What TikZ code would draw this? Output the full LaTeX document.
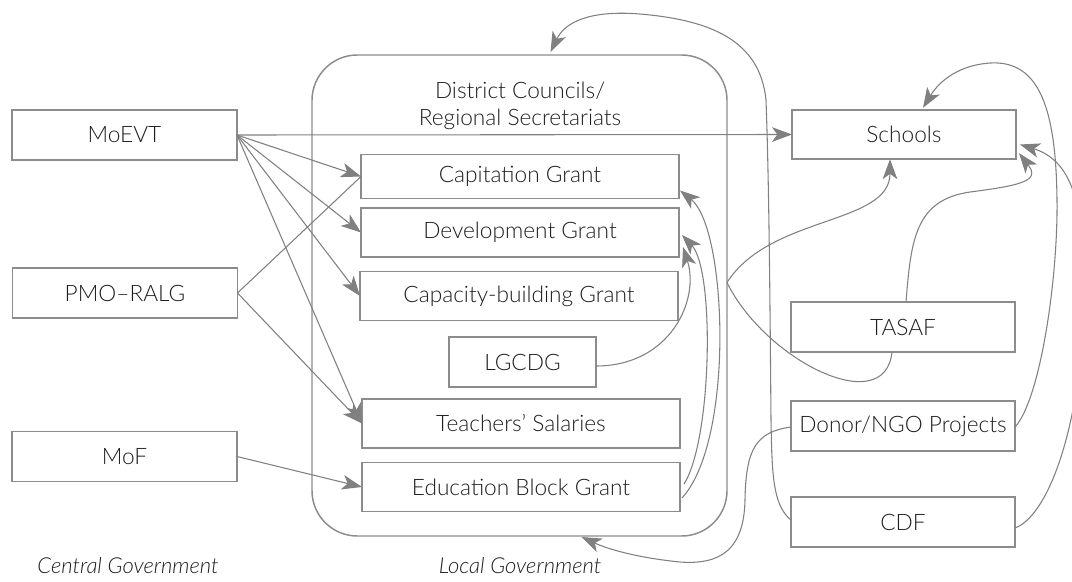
\documentclass[tikz,border=0pt]{standalone}
\usepackage{fontspec}
\setmainfont{Lato Light}[ItalicFont={Lato Light Italic}]
\usetikzlibrary{arrows.meta,calc}
\definecolor{edgegray}{HTML}{808080}
\definecolor{boxgray}{HTML}{8C8C8C}
\definecolor{ink}{HTML}{1E1E1E}
\begin{document}
\begin{tikzpicture}[x=0.75pt,y=-0.75pt,
  label/.style={text=ink, font=\fontsize{17}{20}\selectfont, align=center, inner sep=0pt},
  box/.style={label, draw=boxgray, line width=1.1pt, fill=white, outer sep=0pt},
  sidebox/.style={box, minimum width=168.75pt, minimum height=37.5pt},
  grantbox/.style={box, minimum width=238.5pt, minimum height=37pt},
  link/.style={draw=edgegray, line width=0.8pt},
  arr/.style={link, -{Stealth[length=15pt,width=11pt,inset=4pt]}},
  ]
\useasboundingbox (0,0) rectangle (1072,582);
\clip (0,0) rectangle (1072,582);

% local government frame
\node[draw=boxgray, line width=1.1pt, rounded corners=34pt, minimum width=311.25pt,
      minimum height=360.75pt, inner sep=0pt, outer sep=0pt] (lg) at (519.5,295.5) {};
\node[label] (lgtitle) at (520,106) {District Councils/\\Regional Secretariats};

% central government
\node[sidebox] (moevt) at (124.5,135) {MoEVT};
\node[sidebox] (pmo) at (125,293) {PMO--RALG};
\node[sidebox] (mof) at (124.5,456.5) {MoF};

% grants inside the local government frame
\node[grantbox, minimum height=33pt] (cap) at (520,176.5) {Capitation Grant};
\node[grantbox] (dev) at (520,232.5) {Development Grant};
\node[grantbox] (capb) at (519,296) {Capacity-building Grant};
\node[box, minimum width=110.25pt, minimum height=37.5pt] (lgcdg) at (522.5,362) {LGCDG};
\node[grantbox] (teach) at (521,423.5) {Teachers’ Salaries};
\node[grantbox] (ebg) at (521,487) {Education Block Grant};

% right column
\node[sidebox, minimum width=168pt, minimum height=37pt] (schools) at (904,134.5) {Schools};
\node[sidebox, minimum width=168pt] (tasaf) at (903,327) {TASAF};
\node[sidebox, minimum width=168pt] (donor) at (903,426) {Donor/NGO Projects};
\node[sidebox, minimum width=168pt] (cdf) at (903,522) {CDF};

% captions
\node[label, font=\fontsize{16.5}{20}\selectfont\itshape] (cgcap) at (128,566) {Central Government};
\node[label, font=\fontsize{16.5}{20}\selectfont\itshape] (lgcap) at (520,566) {Local Government};

% straight flows
\draw[arr] (moevt.east) -- (schools.west);
\draw[arr] (moevt.east) -- (cap.west);
\draw[arr] (moevt.east) -- (dev.west);
\draw[arr] (moevt.east) -- (capb.west);
\draw[arr] (moevt.east) -- (teach.west);
\draw[link] (pmo.east) -- (cap.west);
\draw[arr] (pmo.east) -- (teach.west);
\draw[arr] (mof.east) -- (ebg.west);

% flows inside the frame
\draw[arr] ($(ebg.east)+(2,11)$) .. controls (735,440) and (727,228) .. ($(cap.south east)+(1,-8)$);
\draw[arr] ($(ebg.east)+(4,-3)$) .. controls (712,440) and (715,270) .. ($(dev.east)+(3,2.5)$);
\draw[arr] ($(lgcdg.east)+(0,4)$) .. controls (670,366) and (700,300) .. ($(dev.east)+(4,14.5)$);

% frame to schools and TASAF
\draw[arr] ($(lg.east)+(0,-13)$) .. controls (770,215) and (890,225) .. ($(schools.south)+(-14,0)$);
\draw[link] ($(lg.east)+(0,-13)$) .. controls (765,360) and (885,420) .. ($(tasaf.south)+(-11,0)$);

% TASAF to schools
\draw[arr] ($(tasaf.north)+(3,0)$) .. controls (911,240) and (915,200) .. (970,192)
  .. controls (1025,185) and (1040,180) .. ($(schools.south east)+(3,-6)$);

% CDF to schools
\draw[arr] ($(cdf.east)+(0,6)$) .. controls (1050,515) and (1082,420) .. (1084,300)
  .. controls (1086,200) and (1070,160) .. ($(schools.east)+(4,10)$);

% donor projects to schools
\draw[arr] ($(donor.east)+(0,1)$) .. controls (1040,400) and (1058,280) .. (1057,200)
  .. controls (1056,110) and (1040,60) .. (990,63)
  .. controls (960,65) and (940,80) .. ($(schools.north)+(19,-2)$);

% CDF to the frame (top)
\draw[arr] ($(cdf.west)+(0,-2)$) .. controls (772,505) and (772,470) .. (771,420)
  .. controls (770,300) and (769,180) .. (766,100)
  .. controls (760,40) and (710,20) .. (640,14)
  .. controls (590,10) and (565,22) .. ($(lg.north)+(31,-3)$);

% donor projects to the frame (bottom)
\draw[arr] ($(donor.west)+(0,1)$) .. controls (755,432) and (746,450) .. (745,500)
  .. controls (744,550) and (720,565) .. (680,562)
  .. controls (640,558) and (610,550) .. ($(lg.south)+(62,1)$);
\end{tikzpicture}
\end{document}
